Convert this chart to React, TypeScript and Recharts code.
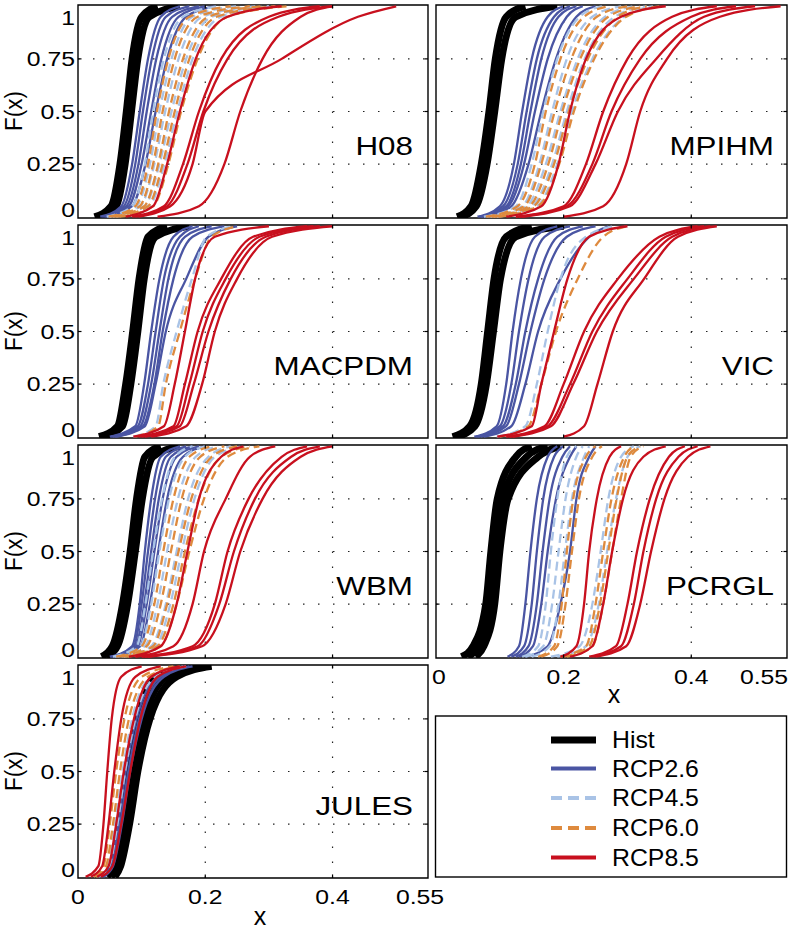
import React from 'react';
import { LineChart, Line, XAxis, YAxis, ReferenceLine, ReferenceArea } from 'recharts';

const FONT = '"Liberation Sans", Arial, Helvetica, sans-serif';

const levels = [0, 0.05, 0.25, 0.5, 0.75, 0.95, 1];
const xTicks = [0, 0.2, 0.4, 0.55];
const yTicks = [0, 0.25, 0.5, 0.75, 1];
const xGrid = [0.2, 0.4];
const yGrid = [0.25, 0.5, 0.75];
const yDomain = [-0.006, 1.006];

const modelNames = ['H08', 'MPIHM', 'MACPDM', 'VIC', 'WBM', 'PCRGL', 'JULES'];
const scenarioNames = ['Hist', 'RCP2.6', 'RCP4.5', 'RCP6.0', 'RCP8.5'];
const scenarioColors = ['#000000', '#4a55a3', '#a9c3e6', '#de8a3e', '#c8101e'];

// H08
const h08Hist = [
  [0.026, 0.052, 0.066, 0.076, 0.085, 0.100, 0.125],
  [0.032, 0.060, 0.074, 0.084, 0.094, 0.112, 0.160],
];
const h08Rcp26 = [
  [0.035, 0.068, 0.085, 0.097, 0.110, 0.130, 0.160],
  [0.038, 0.072, 0.090, 0.102, 0.116, 0.138, 0.175],
  [0.040, 0.076, 0.095, 0.108, 0.123, 0.148, 0.190],
  [0.042, 0.080, 0.100, 0.115, 0.131, 0.158, 0.200],
  [0.045, 0.085, 0.106, 0.122, 0.140, 0.170, 0.215],
];
const h08Rcp45 = [
  [0.045, 0.085, 0.105, 0.118, 0.135, 0.165, 0.220],
  [0.048, 0.092, 0.113, 0.128, 0.147, 0.180, 0.250],
  [0.050, 0.098, 0.120, 0.137, 0.158, 0.195, 0.280],
  [0.055, 0.105, 0.128, 0.147, 0.170, 0.210, 0.300],
  [0.060, 0.112, 0.136, 0.156, 0.180, 0.225, 0.310],
];
const h08Rcp60 = [
  [0.048, 0.090, 0.110, 0.124, 0.142, 0.175, 0.240],
  [0.052, 0.097, 0.118, 0.133, 0.152, 0.188, 0.270],
  [0.056, 0.104, 0.126, 0.143, 0.165, 0.205, 0.290],
  [0.060, 0.110, 0.133, 0.152, 0.175, 0.218, 0.310],
  [0.065, 0.118, 0.142, 0.162, 0.188, 0.235, 0.330],
];
const h08Rcp85 = [
  [0.075, 0.118, 0.140, 0.160, 0.185, 0.235, 0.320],
  [0.085, 0.135, 0.165, 0.190, 0.225, 0.300, 0.380],
  [0.090, 0.140, 0.172, 0.197, 0.235, 0.315, 0.400],
  [0.125, 0.190, 0.230, 0.255, 0.290, 0.350, 0.400],
  [0.095, 0.145, 0.180, 0.200, 0.320, 0.440, 0.500],
];

// MPIHM
const mpihmHist = [
  [0.033, 0.055, 0.071, 0.083, 0.093, 0.110, 0.140],
  [0.040, 0.063, 0.080, 0.092, 0.103, 0.125, 0.190],
];
const mpihmRcp26 = [
  [0.065, 0.100, 0.122, 0.135, 0.150, 0.175, 0.200],
  [0.068, 0.105, 0.128, 0.142, 0.158, 0.185, 0.210],
  [0.070, 0.110, 0.133, 0.148, 0.165, 0.192, 0.220],
  [0.072, 0.113, 0.138, 0.155, 0.175, 0.205, 0.230],
  [0.075, 0.118, 0.145, 0.165, 0.188, 0.220, 0.250],
];
const mpihmRcp45 = [
  [0.075, 0.125, 0.150, 0.168, 0.190, 0.225, 0.260],
  [0.080, 0.135, 0.162, 0.182, 0.205, 0.245, 0.290],
  [0.085, 0.142, 0.172, 0.195, 0.222, 0.265, 0.310],
  [0.090, 0.150, 0.182, 0.205, 0.233, 0.280, 0.330],
  [0.095, 0.158, 0.190, 0.213, 0.245, 0.295, 0.340],
];
const mpihmRcp60 = [
  [0.078, 0.128, 0.155, 0.172, 0.195, 0.232, 0.270],
  [0.082, 0.138, 0.165, 0.186, 0.212, 0.252, 0.300],
  [0.088, 0.146, 0.176, 0.198, 0.226, 0.270, 0.320],
  [0.092, 0.153, 0.185, 0.208, 0.238, 0.285, 0.330],
  [0.098, 0.160, 0.193, 0.216, 0.248, 0.298, 0.350],
];
const mpihmRcp85 = [
  [0.110, 0.165, 0.192, 0.210, 0.235, 0.290, 0.360],
  [0.125, 0.200, 0.235, 0.262, 0.300, 0.370, 0.440],
  [0.130, 0.205, 0.245, 0.275, 0.320, 0.400, 0.470],
  [0.135, 0.210, 0.250, 0.285, 0.345, 0.420, 0.500],
  [0.200, 0.262, 0.298, 0.320, 0.362, 0.445, 0.540],
];

// MACPDM
const macpdmHist = [
  [0.033, 0.062, 0.075, 0.086, 0.096, 0.110, 0.140],
  [0.040, 0.070, 0.083, 0.094, 0.104, 0.122, 0.175],
];
const macpdmRcp26 = [
  [0.050, 0.090, 0.104, 0.115, 0.128, 0.150, 0.180],
  [0.052, 0.094, 0.110, 0.122, 0.135, 0.160, 0.190],
  [0.055, 0.098, 0.115, 0.128, 0.142, 0.168, 0.210],
  [0.058, 0.102, 0.120, 0.133, 0.150, 0.180, 0.230],
  [0.060, 0.105, 0.122, 0.138, 0.170, 0.205, 0.250],
];
const macpdmRcp45 = [
  [0.087, 0.122, 0.134, 0.155, 0.179, 0.202, 0.244],
];
const macpdmRcp60 = [
  [0.090, 0.126, 0.138, 0.160, 0.184, 0.210, 0.250],
];
const macpdmRcp85 = [
  [0.087, 0.135, 0.152, 0.168, 0.184, 0.215, 0.300],
  [0.095, 0.150, 0.168, 0.188, 0.225, 0.275, 0.360],
  [0.100, 0.155, 0.175, 0.196, 0.232, 0.285, 0.370],
  [0.105, 0.160, 0.182, 0.205, 0.240, 0.295, 0.380],
  [0.115, 0.170, 0.195, 0.215, 0.250, 0.305, 0.400],
];

// VIC
const vicHist = [
  [0.026, 0.053, 0.071, 0.081, 0.091, 0.110, 0.150],
  [0.033, 0.061, 0.079, 0.090, 0.101, 0.125, 0.200],
];
const vicRcp26 = [
  [0.060, 0.095, 0.110, 0.120, 0.133, 0.155, 0.190],
  [0.063, 0.100, 0.118, 0.130, 0.145, 0.170, 0.210],
  [0.066, 0.105, 0.125, 0.140, 0.160, 0.190, 0.230],
  [0.070, 0.110, 0.130, 0.148, 0.170, 0.205, 0.250],
  [0.075, 0.118, 0.140, 0.160, 0.195, 0.240, 0.270],
];
const vicRcp45 = [
  [0.095, 0.140, 0.158, 0.175, 0.195, 0.235, 0.280],
];
const vicRcp60 = [
  [0.100, 0.145, 0.165, 0.188, 0.222, 0.262, 0.300],
];
const vicRcp85 = [
  [0.096, 0.150, 0.165, 0.185, 0.206, 0.240, 0.300],
  [0.110, 0.170, 0.200, 0.232, 0.285, 0.350, 0.410],
  [0.115, 0.175, 0.210, 0.245, 0.300, 0.360, 0.420],
  [0.120, 0.180, 0.215, 0.252, 0.310, 0.370, 0.430],
  [0.200, 0.232, 0.253, 0.277, 0.326, 0.379, 0.440],
];

// WBM
const wbmHist = [
  [0.037, 0.054, 0.070, 0.082, 0.092, 0.105, 0.130],
  [0.045, 0.062, 0.078, 0.090, 0.101, 0.118, 0.160],
];
const wbmRcp26 = [
  [0.050, 0.085, 0.097, 0.105, 0.115, 0.130, 0.160],
  [0.052, 0.088, 0.100, 0.110, 0.121, 0.138, 0.170],
  [0.055, 0.091, 0.104, 0.115, 0.127, 0.146, 0.180],
  [0.057, 0.094, 0.108, 0.120, 0.133, 0.155, 0.190],
  [0.060, 0.098, 0.113, 0.126, 0.140, 0.165, 0.200],
];
const wbmRcp45 = [
  [0.055, 0.092, 0.106, 0.118, 0.132, 0.152, 0.180],
  [0.058, 0.098, 0.115, 0.128, 0.143, 0.168, 0.200],
  [0.062, 0.105, 0.125, 0.140, 0.157, 0.185, 0.220],
  [0.068, 0.115, 0.138, 0.155, 0.173, 0.205, 0.240],
  [0.072, 0.122, 0.145, 0.163, 0.183, 0.215, 0.260],
];
const wbmRcp60 = [
  [0.060, 0.100, 0.120, 0.134, 0.150, 0.175, 0.210],
  [0.065, 0.108, 0.130, 0.146, 0.163, 0.192, 0.230],
  [0.070, 0.118, 0.140, 0.158, 0.178, 0.210, 0.250],
  [0.075, 0.125, 0.150, 0.168, 0.190, 0.225, 0.270],
  [0.078, 0.130, 0.155, 0.175, 0.198, 0.235, 0.285],
];
const wbmRcp85 = [
  [0.080, 0.130, 0.155, 0.172, 0.190, 0.225, 0.260],
  [0.090, 0.150, 0.180, 0.198, 0.232, 0.270, 0.310],
  [0.100, 0.180, 0.215, 0.235, 0.268, 0.320, 0.360],
  [0.105, 0.188, 0.222, 0.245, 0.278, 0.335, 0.380],
  [0.110, 0.195, 0.232, 0.255, 0.290, 0.350, 0.400],
];

// PCRGL
const pcrglHist = [
  [0.040, 0.058, 0.078, 0.086, 0.096, 0.125, 0.150],
  [0.050, 0.066, 0.085, 0.093, 0.104, 0.142, 0.175],
  [0.062, 0.075, 0.092, 0.100, 0.113, 0.160, 0.195],
];
const pcrglRcp26 = [
  [0.112, 0.130, 0.140, 0.148, 0.158, 0.175, 0.190],
  [0.118, 0.138, 0.150, 0.158, 0.168, 0.185, 0.200],
  [0.125, 0.145, 0.158, 0.167, 0.178, 0.198, 0.210],
  [0.130, 0.152, 0.165, 0.175, 0.188, 0.210, 0.220],
  [0.140, 0.175, 0.195, 0.210, 0.220, 0.240, 0.250],
];
const pcrglRcp45 = [
  [0.135, 0.160, 0.172, 0.180, 0.190, 0.205, 0.220],
  [0.140, 0.168, 0.182, 0.192, 0.203, 0.220, 0.230],
  [0.150, 0.178, 0.192, 0.202, 0.213, 0.232, 0.240],
  [0.180, 0.225, 0.245, 0.258, 0.270, 0.290, 0.310],
  [0.190, 0.235, 0.255, 0.268, 0.282, 0.300, 0.320],
];
const pcrglRcp60 = [
  [0.160, 0.185, 0.197, 0.205, 0.215, 0.235, 0.250],
  [0.165, 0.190, 0.203, 0.213, 0.224, 0.245, 0.260],
  [0.195, 0.235, 0.250, 0.262, 0.275, 0.295, 0.310],
  [0.200, 0.240, 0.257, 0.270, 0.283, 0.300, 0.320],
  [0.205, 0.245, 0.262, 0.276, 0.290, 0.305, 0.325],
];
const pcrglRcp85 = [
  [0.195, 0.220, 0.232, 0.240, 0.252, 0.272, 0.290],
  [0.210, 0.245, 0.262, 0.276, 0.293, 0.325, 0.360],
  [0.240, 0.282, 0.300, 0.315, 0.335, 0.365, 0.390],
  [0.245, 0.290, 0.310, 0.325, 0.345, 0.380, 0.410],
  [0.250, 0.298, 0.320, 0.337, 0.358, 0.395, 0.430],
];

// JULES
const julesHist = [
  [0.046, 0.054, 0.066, 0.078, 0.094, 0.125, 0.180],
  [0.052, 0.061, 0.074, 0.087, 0.104, 0.140, 0.200],
  [0.058, 0.067, 0.081, 0.094, 0.113, 0.155, 0.210],
];
const julesRcp26 = [
  [0.035, 0.050, 0.063, 0.075, 0.092, 0.125, 0.170],
  [0.038, 0.053, 0.066, 0.079, 0.096, 0.130, 0.175],
  [0.040, 0.055, 0.069, 0.082, 0.100, 0.135, 0.180],
];
const julesRcp45 = [
  [0.030, 0.046, 0.058, 0.070, 0.085, 0.115, 0.165],
  [0.033, 0.049, 0.062, 0.074, 0.090, 0.122, 0.170],
];
const julesRcp60 = [
  [0.025, 0.040, 0.050, 0.060, 0.073, 0.100, 0.150],
  [0.028, 0.044, 0.055, 0.066, 0.080, 0.110, 0.160],
];
const julesRcp85 = [
  [0.012, 0.032, 0.040, 0.046, 0.053, 0.068, 0.100],
  [0.020, 0.038, 0.048, 0.057, 0.068, 0.090, 0.130],
  [0.030, 0.048, 0.060, 0.072, 0.088, 0.115, 0.160],
  [0.036, 0.054, 0.068, 0.082, 0.098, 0.125, 0.170],
];

const panelCurves = [
  [h08Hist, h08Rcp26, h08Rcp45, h08Rcp60, h08Rcp85],
  [mpihmHist, mpihmRcp26, mpihmRcp45, mpihmRcp60, mpihmRcp85],
  [macpdmHist, macpdmRcp26, macpdmRcp45, macpdmRcp60, macpdmRcp85],
  [vicHist, vicRcp26, vicRcp45, vicRcp60, vicRcp85],
  [wbmHist, wbmRcp26, wbmRcp45, wbmRcp60, wbmRcp85],
  [pcrglHist, pcrglRcp26, pcrglRcp45, pcrglRcp60, pcrglRcp85],
  [julesHist, julesRcp26, julesRcp45, julesRcp60, julesRcp85],
];

const rowTops = [5, 225, 445, 665];
const PLOT_H = 213;
const lineWidths = [7, 2.3, 2.3, 2.3, 2.3];
const lineDash = [undefined, undefined, '9 5', '9 5', undefined];
const legendDash = [undefined, undefined, '11 6', '11 6', undefined];
const legendWidths = [7, 4, 4, 4, 4];
const GRID_DASH = '1.5 13.5';

const toPoints = (xs: number[]) => levels.map((F, i) => ({ x: xs[i], F }));

const YTick = (props: any) => {
  const { y, payload } = props;
  const v = payload.value;
  const dy = v === 1 ? 11 : v === 0 ? -7 : 0;
  return (
    <text
      transform={`translate(75, ${y + dy}) scale(1.18, 1)`}
      textAnchor="end"
      dominantBaseline="central"
      fontSize={21}
      fontFamily={FONT}
      fill="#000"
    >
      {v}
    </text>
  );
};

const makeXTick = (col: number) => (props: any) => {
  const { x, payload } = props;
  const v = payload.value;
  let shift = 0;
  if (v === 0) shift = col === 0 ? 0 : 3;
  if (v === 0.55) shift = col === 0 ? -8 : -23;
  return (
    <text
      transform={`translate(${x + shift}, ${2 + PLOT_H + 19}) scale(1.18, 1)`}
      textAnchor="middle"
      dominantBaseline="central"
      fontSize={21}
      fontFamily={FONT}
      fill="#000"
    >
      {v}
    </text>
  );
};

function Panel({ idx, col, row, showX }: { idx: number; col: number; row: number; showX: boolean }) {
  const leftCol = col === 0;
  const width = leftCol ? 450 : 363;
  const bottom = showX ? 0 : 10;
  const margin = leftCol
    ? { top: 2, right: 22, bottom, left: 0 }
    : { top: 2, right: 6, bottom, left: 6 };
  const height = 2 + PLOT_H + (showX ? 45 : bottom);
  const curves = panelCurves[idx];
  const tickX = 0.0055;
  const tickY = 0.017;

  return (
    <div style={{ position: 'absolute', left: leftCol ? 0 : 430, top: rowTops[row] - 2 }}>
      <LineChart width={width} height={height} margin={margin}>
        <XAxis
          type="number"
          dataKey="x"
          domain={[0, 0.55]}
          ticks={xTicks}
          interval={0}
          allowDataOverflow
          hide={!showX}
          height={45}
          axisLine={false}
          tickLine={false}
          tick={makeXTick(col)}
        />
        <YAxis
          type="number"
          dataKey="F"
          domain={yDomain}
          ticks={yTicks}
          interval={0}
          allowDataOverflow
          hide={!leftCol}
          width={78}
          axisLine={false}
          tickLine={false}
          tick={YTick}
        />
        {xGrid.map((g) => (
          <ReferenceLine key={'gx' + g} x={g} stroke="#222" strokeWidth={1.2} strokeDasharray={GRID_DASH} />
        ))}
        {yGrid.map((g) => (
          <ReferenceLine key={'gy' + g} y={g} stroke="#222" strokeWidth={1.2} strokeDasharray={GRID_DASH} />
        ))}
        {curves.map((group, s) =>
          group.map((xs, k) => (
            <Line
              key={`${s}-${k}`}
              data={toPoints(xs)}
              dataKey="F"
              type="monotone"
              stroke={scenarioColors[s]}
              strokeWidth={lineWidths[s]}
              strokeDasharray={lineDash[s]}
              dot={false}
              activeDot={false}
              isAnimationActive={false}
            />
          ))
        )}
        {xGrid.map((g) => (
          <ReferenceLine
            key={'tb' + g}
            segment={[{ x: g, y: yDomain[0] }, { x: g, y: yDomain[0] + tickY }]}
            stroke="#000"
            strokeWidth={1.2}
          />
        ))}
        {xGrid.map((g) => (
          <ReferenceLine
            key={'tt' + g}
            segment={[{ x: g, y: yDomain[1] - tickY }, { x: g, y: yDomain[1] }]}
            stroke="#000"
            strokeWidth={1.2}
          />
        ))}
        {yGrid.map((g) => (
          <ReferenceLine
            key={'tl' + g}
            segment={[{ x: 0, y: g }, { x: tickX, y: g }]}
            stroke="#000"
            strokeWidth={1.2}
          />
        ))}
        {yGrid.map((g) => (
          <ReferenceLine
            key={'tr' + g}
            segment={[{ x: 0.55 - tickX, y: g }, { x: 0.55, y: g }]}
            stroke="#000"
            strokeWidth={1.2}
          />
        ))}
        <ReferenceArea
          x1={0}
          x2={0.55}
          y1={yDomain[0]}
          y2={yDomain[1]}
          fill="none"
          fillOpacity={0}
          stroke="#000"
          strokeWidth={1.4}
          strokeOpacity={1}
        />
      </LineChart>
    </div>
  );
}

const layout = [
  { col: 0, row: 0, showX: false },
  { col: 1, row: 0, showX: false },
  { col: 0, row: 1, showX: false },
  { col: 1, row: 1, showX: false },
  { col: 0, row: 2, showX: false },
  { col: 1, row: 2, showX: true },
  { col: 0, row: 3, showX: true },
];

export default function App() {
  const legendRows = [740, 768.5, 798, 828, 857.5];
  return (
    <div style={{ position: 'absolute', left: 0, top: 0, width: 793, height: 930, background: '#fff' }}>
      {layout.map((l, i) => (
        <Panel key={modelNames[i]} idx={i} col={l.col} row={l.row} showX={l.showX} />
      ))}
      <svg
        width={793}
        height={930}
        style={{ position: 'absolute', left: 0, top: 0, pointerEvents: 'none' }}
        fontFamily={FONT}
      >
        {layout.map((l, i) => (
          <text
            key={'name' + i}
            transform={`translate(${l.col === 0 ? 413 : 774}, ${rowTops[l.row] + 150}) scale(1.23, 1)`}
            textAnchor="end"
            fontSize={25.5}
            fill="#000"
          >
            {modelNames[i]}
          </text>
        ))}
        {rowTops.map((t) => (
          <text
            key={'fx' + t}
            transform={`translate(14, ${t + 106}) rotate(-90) scale(1, 1.1)`}
            textAnchor="middle"
            dominantBaseline="central"
            fontSize={22.5}
            fill="#000"
          >
            F(x)
          </text>
        ))}
        <text x={260} y={916} textAnchor="middle" dominantBaseline="central" fontSize={25} fill="#000">
          x
        </text>
        <text x={614} y={694} textAnchor="middle" dominantBaseline="central" fontSize={25} fill="#000">
          x
        </text>
        <rect x={435.5} y={716} width={351} height={161} fill="#fff" stroke="#000" strokeWidth={1.4} />
        {scenarioNames.map((name, s) => (
          <g key={name}>
            <line
              x1={551}
              x2={596}
              y1={legendRows[s]}
              y2={legendRows[s]}
              stroke={scenarioColors[s]}
              strokeWidth={legendWidths[s]}
              strokeDasharray={legendDash[s]}
            />
            <text
              transform={`translate(612, ${legendRows[s]}) scale(1.08, 1)`}
              dominantBaseline="central"
              fontSize={23}
              fill="#000"
            >
              {name}
            </text>
          </g>
        ))}
      </svg>
    </div>
  );
}
